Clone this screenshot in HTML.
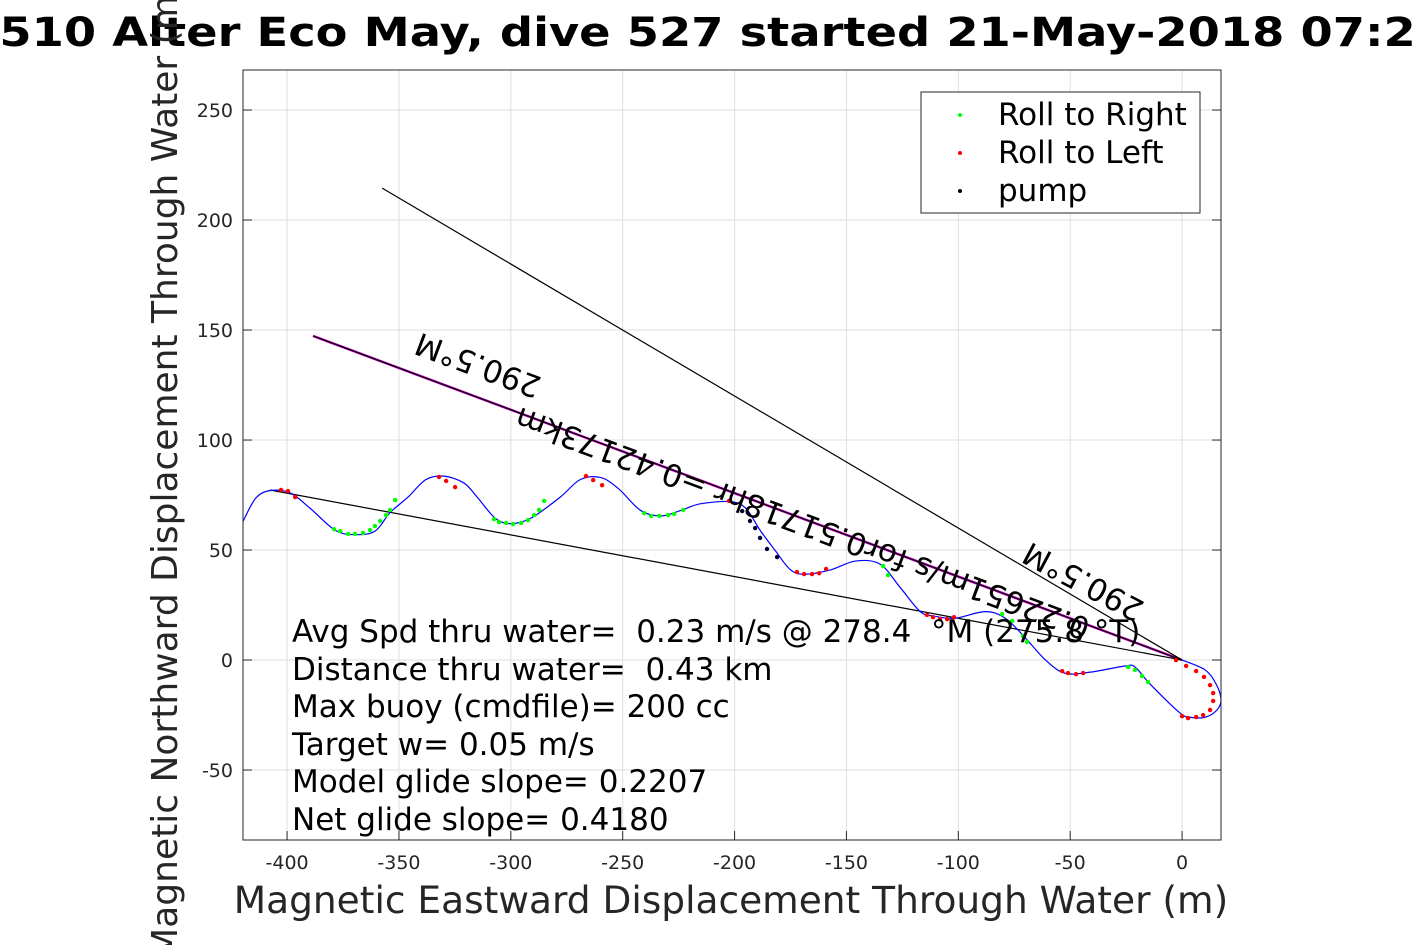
<!DOCTYPE html>
<html><head><meta charset="utf-8"><style>
html,body{margin:0;padding:0;background:#fff;}
svg{display:block;font-family:"DejaVu Sans","Liberation Sans",sans-serif;}
svg text{white-space:pre;}
</style></head><body>
<svg id="chart" width="1417" height="945" viewBox="0 0 1417 945">
<rect x="0" y="0" width="1417" height="945" fill="#fff"/>
<g id="grid"></g>
<g id="lines"></g>
<g id="track"></g>
<g id="marks"></g>
<g id="axes"></g>
<text x="-72" y="46" font-size="40" font-weight="bold" textLength="1520" lengthAdjust="spacingAndGlyphs">SG510 Alter Eco May, dive 527 started 21-May-2018 07:25</text>
<text transform="translate(177,470) rotate(-90)" text-anchor="middle" font-size="36" fill="#262626">Magnetic Northward Displacement Through Water (m)</text>
<text x="731" y="913" text-anchor="middle" font-size="37.5" fill="#262626">Magnetic Eastward Displacement Through Water (m)</text>
<g font-size="31" fill="#000">
<text x="292" y="642">Avg Spd thru water=  0.23 m/s @ 278.4  °M (275.8 °T)</text>
<text x="292" y="680">Distance thru water=  0.43 km</text>
<text x="292" y="717">Max buoy (cmdfile)= 200 cc</text>
<text x="292" y="755">Target w= 0.05 m/s</text>
<text x="292" y="792">Model glide slope= 0.2207</text>
<text x="292" y="830">Net glide slope= 0.4180</text>
</g>
<g font-size="31" fill="#000">
<text transform="translate(543,378) rotate(200.45)">290.5°M</text>
<text transform="translate(1092,620) rotate(200.45)">0.22651m/s for0.51718hr =0.42173km</text>
<text transform="translate(1146,603) rotate(208)">290.5°M</text>
</g>
<g>
<rect x="921" y="92" width="279" height="121" fill="#fff" stroke="#262626" stroke-width="1"/>
<circle cx="960" cy="115" r="2" fill="#00ff00"/><text x="998" y="125" font-size="31">Roll to Right</text>
<circle cx="960" cy="153" r="2" fill="#ff0000"/><text x="998" y="163" font-size="31">Roll to Left</text>
<circle cx="960" cy="191" r="2" fill="#000"/><text x="998" y="201" font-size="31">pump</text>
</g>
</svg>
<script>
const xTicks=[-400,-350,-300,-250,-200,-150,-100,-50,0];
const yTicks=[-50,0,50,100,150,200,250];
const trackX=[0,10.3,15.2,17.4,15.6,10.3,3.6,-1,-14.3,-21,-25.5,-41,-52.3,-61,-70,-79,-88,-101.5,-111,-117,-126,-135,-146,-157,-168.5,-175,-182,-188.6,-195,-202,-215.4,-224,-233,-242,-252,-260,-269,-278,-291,-300,-307,-315,-321,-330,-338,-346,-354,-360.7,-369.6,-378.5,-389.7,-398.7,-407.6,-414,-419.7];
const trackY=[0,-4.5,-10.9,-18,-22.7,-26,-26,-24,-10.9,-3.2,-2.7,-5.5,-6,0,10,19,22,19,20,22,33,43.6,45,41,39,41,50,59,69,72,71,68,65.5,68,78,83,82,74,64.5,62,64.5,74,80.5,83.6,82,74,67,58.6,57,59,69,76,77,73.6,63];
const redX=[-402.7,-399.6,-396.4,-332.1,-328.9,-324.9,-266.4,-263.2,-259.2,-202.5,-172.1,-168.9,-165.4,-162.2,-159.1,-114,-111.3,-108.2,-105,-101.9,-53.6,-51,-47.4,-44.2,-2.7,1.8,6.3,9.8,12.5,13.9,13.9,12.5,9.4,6.3,2.7,0];
const redY=[77.3,76.8,74.1,83.2,81.4,78.6,83.6,81.8,79.5,72.3,40,39.1,39.1,39.5,41.4,20.5,19.5,18.6,18.6,19.5,-5,-5.9,-6.4,-5.9,0,-2.7,-5,-7.7,-11.4,-15,-18.6,-22.7,-25,-25.9,-26.4,-25.5];
const greenX=[-379,-376.3,-372.7,-369.6,-366,-362.9,-360.7,-358.4,-355.8,-354,-351.7,-307.5,-305.3,-302.1,-299,-295.4,-292.3,-289.6,-287.4,-285.1,-240.4,-237.3,-233.7,-229.7,-227,-223,-133.6,-131.4,-80.4,-76,-71.1,-69.3,-24.1,-21,-17.9,-15.2];
const greenY=[59.5,58.6,57.3,57.3,57.7,59.1,60.9,63.2,65.9,68.2,72.7,64.1,62.7,62.3,61.8,62.3,63.6,65.9,68.2,72.3,66.8,65.5,65.5,65.9,66.4,68.2,42.7,38.6,20.9,17.7,10.9,8.2,-3.2,-4.5,-7.3,-10];
const pumpX=[-196.6,-193.1,-190.8,-188.6,-185.5,-181];
const pumpY=[67.7,63.2,60,55.5,50.5,46.8];
const refX=[-357.5,-388.4,-407.6];
const refY=[214.5,147.3,77.3];
const xDomain=[-419.7,17.4], yDomain=[-81.8,268.2];
const X0=243,X1=1221,Y0=840,Y1=70;
const sx=v=>X0+(v-xDomain[0])/(xDomain[1]-xDomain[0])*(X1-X0);
const sy=v=>Y0-(v-yDomain[0])/(yDomain[1]-yDomain[0])*(Y0-Y1);
const NS='http://www.w3.org/2000/svg';
function mk(tag,parent,attrs){const e=document.createElementNS(NS,tag);for(const k in attrs)e.setAttribute(k,attrs[k]);parent.appendChild(e);return e;}
const grid=document.getElementById('grid'),axes=document.getElementById('axes');
xTicks.forEach(t=>{
 const g=mk('line',grid,{x1:sx(t),x2:sx(t),y1:Y1,y2:Y0,stroke:'#dfdfdf','stroke-width':1});
 
 
 const tk=mk('line',axes,{x1:sx(t),x2:sx(t),y1:Y0,y2:Y0-9,stroke:'#262626'});
 
 
 const tl=mk('text',axes,{x:sx(t),y:869,'text-anchor':'middle','font-size':19,fill:'#262626'});
 tl.textContent=t;
 
 
});
yTicks.forEach(t=>{
 const g=mk('line',grid,{x1:X0,x2:X1,y1:sy(t),y2:sy(t),stroke:'#dfdfdf','stroke-width':1});
 
 
 const tk=mk('line',axes,{x1:X0,x2:X0+9,y1:sy(t),y2:sy(t),stroke:'#262626'});
 
 
 const tk2=mk('line',axes,{x1:X1,x2:X1-9,y1:sy(t),y2:sy(t),stroke:'#262626'});
 
 
 const tl=mk('text',axes,{x:233,y:sy(t)+7,'text-anchor':'end','font-size':19,fill:'#262626'});
 tl.textContent=t;
 
 
});
const frame=mk('rect',axes,{x:X0,y:Y1,width:X1-X0,height:Y0-Y1,fill:'none',stroke:'#262626','stroke-width':1});


const lines=document.getElementById('lines');
const mag=mk('line',lines,{x1:sx(refX[1]),y1:sy(refY[1]),x2:sx(0),y2:sy(0),stroke:'#cc00cc','stroke-width':2.5});


refX.forEach((v,i)=>{
 const l=mk('line',lines,{x1:sx(v),y1:sy(refY[i]),x2:sx(0),y2:sy(0),stroke:'#000','stroke-width':1.2});
 
 
});
const pts=trackX.map((v,i)=>[sx(v),sy(trackY[i])]);
let d='M'+pts[0][0]+','+pts[0][1];
for(let i=0;i<pts.length-1;i++){
 const p0=pts[Math.max(0,i-1)],p1=pts[i],p2=pts[i+1],p3=pts[Math.min(pts.length-1,i+2)];
 const c1=[p1[0]+(p2[0]-p0[0])/6,p1[1]+(p2[1]-p0[1])/6],c2=[p2[0]-(p3[0]-p1[0])/6,p2[1]-(p3[1]-p1[1])/6];
 d+=' C'+c1[0]+','+c1[1]+' '+c2[0]+','+c2[1]+' '+p2[0]+','+p2[1];
}
const tr=mk('path',document.getElementById('track'),{d:d,fill:'none',stroke:'#0000ff','stroke-width':1.2});


const marks=document.getElementById('marks');
function dots(xs,ys,col,name){xs.forEach((v,i)=>{const c=mk('circle',marks,{cx:sx(v),cy:sy(ys[i]),r:2.2,fill:col});
 
 });}
dots(greenX,greenY,'#00ff00','roll-right-marker');
dots(redX,redY,'#ff0000','roll-left-marker');
dots(pumpX,pumpY,'#000033','pump-marker');
</script>
</body></html>
